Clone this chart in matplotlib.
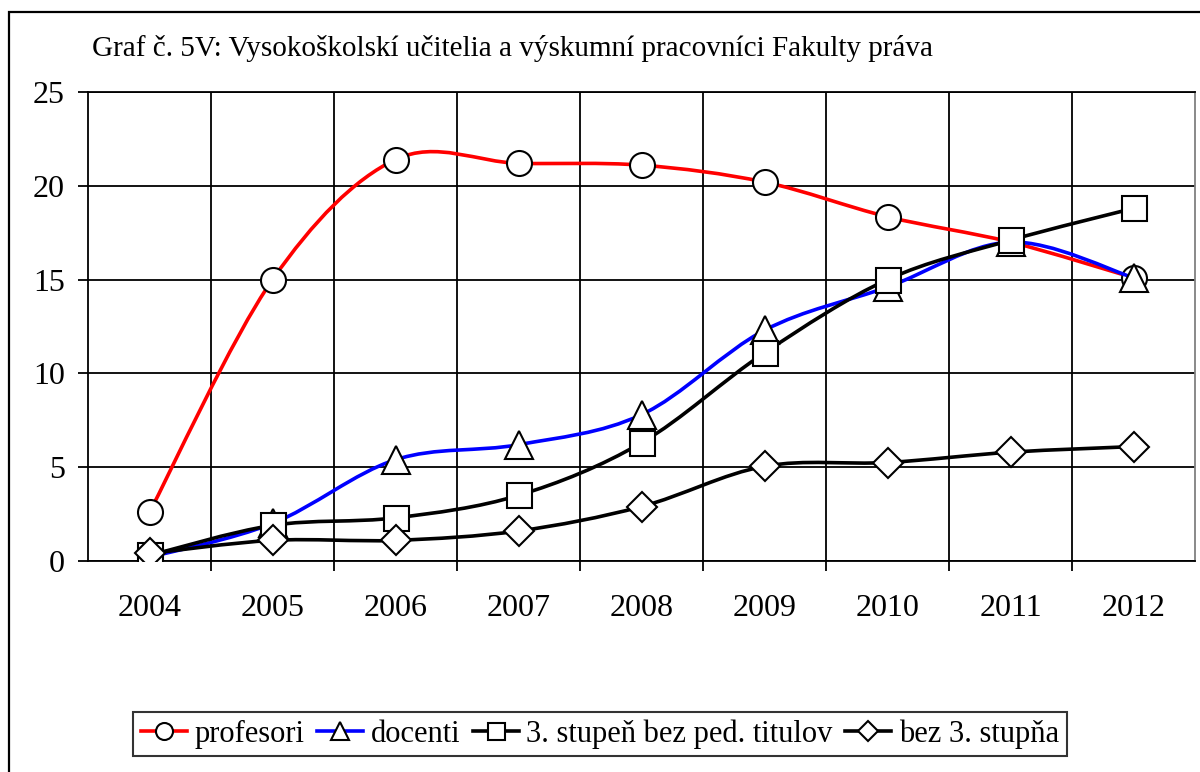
import numpy as np
import matplotlib
matplotlib.use("Agg")
import matplotlib.pyplot as plt
from matplotlib.path import Path
from matplotlib.patches import PathPatch, Rectangle
from matplotlib.lines import Line2D

plt.rcParams['font.family'] = ['Liberation Serif', 'DejaVu Serif']

#%% data
years = ['2004', '2005', '2006', '2007', '2008', '2009', '2010', '2011', '2012']
profesori = [2.6, 15.0, 21.4, 21.2, 21.1, 20.2, 18.35, 17.0, 15.1]
docenti = [0.2, 2.0, 5.4, 6.2, 7.8, 12.3, 14.6, 17.0, 15.1]
stupen3 = [0.3, 1.9, 2.3, 3.5, 6.3, 11.1, 15.0, 17.1, 18.8]
bez3 = [0.4, 1.1, 1.1, 1.6, 2.9, 5.05, 5.25, 5.8, 6.1]
labels = ['profesori', 'docenti', '3. stupeň bez ped. titulov', 'bez 3. stupňa']
title = 'Graf č. 5V: Vysokoškolskí učitelia a výskumní pracovníci Fakulty práva'


def smooth_path(x, y):
    # Excel-like smoothed line: cubic bezier segments through the points
    p = np.column_stack([x, y]).astype(float)
    ext = np.vstack([p[0], p, p[-1]])
    verts = [p[0]]
    codes = [Path.MOVETO]
    for i in range(len(p) - 1):
        p0, p1, p2, p3 = ext[i], ext[i + 1], ext[i + 2], ext[i + 3]
        verts += [p1 + (p2 - p0) / 6, p2 - (p3 - p1) / 6, p2]
        codes += [Path.CURVE4] * 3
    return Path(verts, codes)


#%% figure
fig = plt.figure(figsize=(12, 7.72), dpi=100)
fig.patches.append(Rectangle((9 / 1200, -0.05), 1.2, 1 - 12 / 772 + 0.05,
                             transform=fig.transFigure, fill=False,
                             edgecolor='black', lw=1.6))
ax = fig.add_axes([88 / 1200, 211 / 772, (1195 - 88) / 1200, (561 - 92) / 772])

x = np.arange(len(years))
series = [
    (profesori, '#ff0000', 'o', 18),
    (docenti, '#0000ff', '^', 20),
    (stupen3, 'black', 's', 18),
    (bez3, 'black', 'D', 15),
]
handles = []
for k, (vals, col, mk, ms) in enumerate(series):
    z = 3 + k
    ax.add_patch(PathPatch(smooth_path(x, vals), facecolor='none', edgecolor=col,
                           lw=2.6, zorder=z, capstyle='round', joinstyle='round'))
    ax.plot(x, vals, linestyle='none', marker=mk, markersize=ms,
            markerfacecolor='white', markeredgecolor='black', markeredgewidth=1.5,
            zorder=z + 0.5)
    handles.append(Line2D([], [], color=col, lw=2.6, marker=mk, markersize=ms * 0.68,
                          markerfacecolor='white', markeredgecolor='black',
                          markeredgewidth=1.5))

ax.set_xlim(-0.5, len(years) - 0.5)
ax.set_ylim(0, 25)
ax.set_yticks([0, 5, 10, 15, 20, 25])
ax.set_xticks(x)
ax.set_xticklabels(years)
ax.set_xticks(x[:-1] + 0.5, minor=True)
ax.tick_params(axis='x', which='major', length=0, pad=24, labelsize=23)
ax.tick_params(axis='x', which='minor', length=7.5, width=1.3, direction='out')
ax.tick_params(axis='y', length=7.5, width=1.3, pad=9, labelsize=23)
ax.grid(axis='y', color='black', lw=1.3, zorder=1)
ax.grid(axis='x', which='minor', color='black', lw=1.3, zorder=1)
for side in ['left', 'bottom', 'top']:
    ax.spines[side].set_linewidth(1.3)
ax.spines['right'].set_color('#808080')
ax.spines['right'].set_linewidth(1.3)

fig.text(92 / 1200, 1 - 48 / 772, title, fontsize=21, ha='left', va='center')

leg = fig.legend(handles, labels, loc='center', bbox_to_anchor=(600 / 1200, 1 - 734 / 772),
                 ncol=4, fontsize=22, frameon=True, fancybox=False, edgecolor='black',
                 handlelength=1.5, handletextpad=0.26, columnspacing=0.4,
                 borderpad=0.25, borderaxespad=0)
leg.get_frame().set_linewidth(1.5)

fig.savefig('out.png', dpi=100)
